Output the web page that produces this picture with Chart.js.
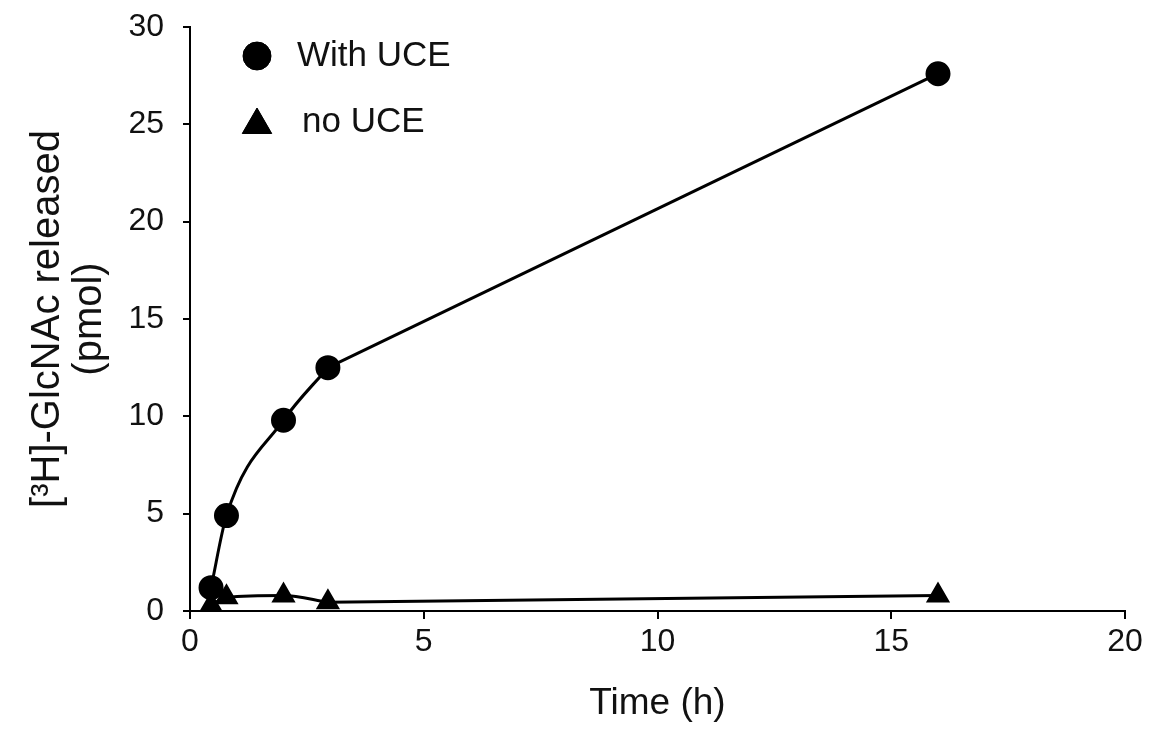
<!DOCTYPE html>
<html>
<head>
<meta charset="utf-8">
<script src="https://cdn.jsdelivr.net/npm/chart.js@4.4.0/dist/chart.umd.min.js"></script>
<style>
  html, body { margin: 0; padding: 0; background: #fff; }
  #wrap { width: 1152px; height: 730px; }
</style>
</head>
<body>
<div id="wrap"><canvas id="chart" width="1152" height="730"></canvas></div>
<script>
  const timeH = [0.45, 0.78, 2, 2.95, 16]
  const withUCE = [1.2, 4.9, 9.8, 12.5, 27.6]
  const noUCE = [0.3, 0.7, 0.8, 0.45, 0.8]
  const seriesNames = ['With UCE', 'no UCE']
  const xTicks = [0, 5, 10, 15, 20]
  const yTicks = [0, 5, 10, 15, 20, 25, 30]

  const font = 'Liberation Sans, Arial, sans-serif'

  const toPoints = (ys, from, to) =>
    timeH.slice(from, to).map((t, i) => ({ x: t, y: ys.slice(from, to)[i] }))

  // the early points are joined by a smooth curve, the last leg is a straight line
  function seriesParts(ys, style, radius) {
    const n = timeH.length
    const base = {
      borderColor: '#000',
      backgroundColor: '#000',
      borderWidth: 3,
      pointStyle: style
    }
    return [
      Object.assign({}, base, {
        data: toPoints(ys, 0, n - 1),
        pointRadius: radius,
        cubicInterpolationMode: 'monotone'
      }),
      Object.assign({}, base, {
        data: toPoints(ys, n - 2, n),
        pointRadius: [0, radius],
        tension: 0
      })
    ]
  }

  // legend drawn inside the plot, top-left, as in the figure
  const insideLegend = {
    id: 'insideLegend',
    afterDraw(chart) {
      const c = chart.ctx
      const area = chart.chartArea
      const rows = [
        { style: 'circle', r: 14, text: seriesNames[0], y: area.top + 29, tx: 297 },
        { style: 'triangle', r: 17, text: seriesNames[1], y: area.top + 98, tx: 302 }
      ]
      c.save()
      rows.forEach(r => {
        c.fillStyle = '#000'
        c.strokeStyle = '#000'
        Chart.helpers.drawPoint(c, { pointStyle: r.style, radius: r.r, borderWidth: 1 }, 257, r.y)
        c.fill()
        c.fillStyle = '#111'
        c.font = '35px ' + font
        c.textBaseline = 'middle'
        c.textAlign = 'left'
        c.fillText(r.text, r.tx, r.y + (r.style === 'triangle' ? -3 : 0))
      })
      c.restore()
    }
  }

  new Chart(document.getElementById('chart'), {
    type: 'line',
    data: {
      datasets: [
        ...seriesParts(withUCE, 'circle', 11),
        ...seriesParts(noUCE, 'triangle', 11)
      ]
    },
    options: {
      responsive: false,
      animation: false,
      layout: { padding: { top: 27, right: 27, left: 0, bottom: 0 } },
      plugins: {
        legend: { display: false },
        tooltip: { enabled: false }
      },
      scales: {
        x: {
          type: 'linear',
          min: 0,
          max: 20,
          afterBuildTicks: axis => { axis.ticks = xTicks.map(v => ({ value: v })) },
          afterFit: axis => { axis.height = 119 },
          border: { display: true, color: '#000', width: 2 },
          grid: { display: true, drawOnChartArea: false, drawTicks: true, tickLength: 8, color: '#000', lineWidth: 2 },
          ticks: { color: '#111', font: { family: font, size: 32 }, padding: 4, maxRotation: 0 },
          title: { display: true, text: 'Time (h)', color: '#111', font: { family: font, size: 37 }, padding: { top: 4 } }
        },
        y: {
          min: 0,
          max: 30,
          afterBuildTicks: axis => { axis.ticks = yTicks.map(v => ({ value: v })) },
          afterFit: axis => {
            axis.width = 190
            axis.paddingTop = 0
            axis.paddingBottom = 0
          },
          border: { display: true, color: '#000', width: 2 },
          grid: { display: true, drawOnChartArea: false, drawTicks: true, tickLength: 7, color: '#000', lineWidth: 2 },
          ticks: { color: '#111', font: { family: font, size: 32 }, padding: 19 },
          title: {
            display: true,
            text: ['[³H]-GlcNAc released', '(pmol)'],
            color: '#111',
            font: { family: font, size: 40, lineHeight: 1.05 },
            padding: { top: 27 }
          }
        }
      }
    },
    plugins: [insideLegend]
  })
</script>
</body>
</html>
